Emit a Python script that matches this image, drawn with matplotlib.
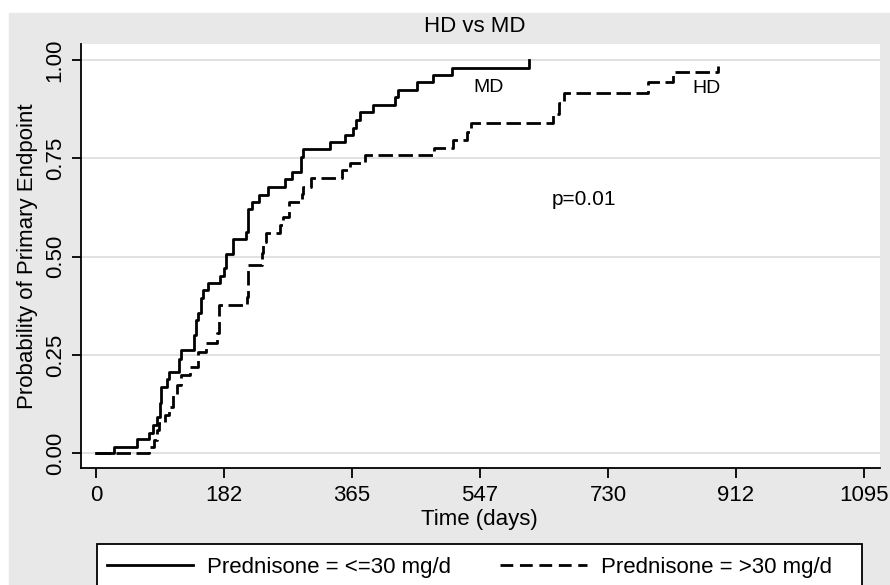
import matplotlib
matplotlib.use('Agg')
import matplotlib.pyplot as plt
from matplotlib.patches import Rectangle
from matplotlib.lines import Line2D

plt.rcParams['font.family'] = ['Liberation Sans', 'DejaVu Sans']

# Kaplan-Meier style cumulative curves (days, probability)
md_days = [0, 26.1, 58.9, 75.6, 81.7, 87.4, 91.2, 93.1, 101.7, 103.6,
           118.8, 120.7, 139.7, 142.6, 145.9, 149.7, 153.0, 160.2, 176.8, 182.5,
           184.9, 194.8, 213.4, 216.2, 222.9, 232.4, 244.7, 269.5, 279.9, 292.3,
           295.6, 333.6, 355.0, 366.9, 370.7, 376.4, 395.4, 426.3, 431.0, 457.2,
           480.9, 507.1, 617.8]
md_prob = [0, .017, .036, .052, .072, .093, .127, .169, .188, .206,
           .241, .263, .301, .339, .356, .394, .415, .432, .451, .470,
           .508, .544, .563, .620, .638, .658, .678, .697, .715, .754,
           .773, .792, .809, .828, .847, .869, .886, .905, .924, .943,
           .962, .980, 1.0]

hd_days = [0, 75.6, 82.7, 87.4, 89.8, 98.4, 104.5, 110.2, 115.9, 121.2,
           134.0, 145.9, 156.8, 172.0, 175.8, 214.8, 217.2, 236.2, 238.5, 242.4,
           262.3, 266.1, 275.6, 293.3, 295.6, 306.5, 350.3, 362.1, 383.5, 481.9,
           509.4, 528.5, 534.2, 652.0, 660.0, 667.7, 787.5, 823.0, 887.0]
hd_prob = [0, .016, .034, .059, .076, .097, .118, .148, .174, .199,
           .220, .258, .280, .305, .377, .398, .479, .509, .538, .559,
           .580, .602, .638, .659, .678, .699, .720, .739, .758, .776,
           .797, .818, .839, .864, .890, .917, .945, .970, .985]

x_ticks = [0, 182, 365, 547, 730, 912, 1095]
y_ticks = [0, 0.25, 0.5, 0.75, 1.0]
y_ticklabels = ['0.00', '0.25', '0.50', '0.75', '1.00']

W, H = 890, 585
fig = plt.figure(figsize=(W / 100, H / 100), dpi=100, facecolor='white')
# Stata-like light gray graph region
fig.patches.append(Rectangle((9 / W, 0), 1 - 9 / W, 1 - 13 / H,
                             transform=fig.transFigure, color='#e8e8e8', zorder=-10))

ax = fig.add_axes([81 / W, 1 - 468.3 / H, 799 / W, 424 / H])
ax.set_facecolor('white')

ax.step(md_days, md_prob, where='post', color='black', lw=2.0, zorder=3)
ax.step(hd_days, hd_prob, where='post', color='black', lw=2.0,
        linestyle=(0, (5.2, 2.0)), zorder=3)

ax.set_xlim(-21.4, 1117.8)
ax.set_ylim(-0.038, 1.04)
ax.set_xticks(x_ticks)
ax.set_xticklabels([str(t) for t in x_ticks], fontsize=16)
ax.set_yticks(y_ticks)
ax.set_yticklabels(y_ticklabels, fontsize=16, rotation=90, va='center')
ax.tick_params(axis='x', direction='out', length=7, width=1.3, pad=5)
ax.tick_params(axis='y', direction='out', length=6.5, width=1.3, pad=4.5)
for y in y_ticks:
    ax.axhline(y, color='#dedede', lw=1.3, zorder=1)

for side in ['top', 'right']:
    ax.spines[side].set_visible(False)
for side in ['left', 'bottom']:
    ax.spines[side].set_linewidth(1.3)

ax.text(559, 0.929, 'MD', fontsize=14, ha='center', va='center')
ax.text(870.7, 0.928, 'HD', fontsize=14, ha='center', va='center')
ax.text(695.7, 0.646, 'p=0.01', fontsize=15, ha='center', va='center')

fig.text(475 / W, 1 - 27 / H, 'HD vs MD', fontsize=16, ha='center', va='center')
fig.text(479 / W, 1 - 520 / H, 'Time (days)', fontsize=16, ha='center', va='center')
fig.text(28 / W, 1 - 256 / H, 'Probability of Primary Endpoint', fontsize=16,
         rotation=90, ha='center', va='center')

# legend box (Stata style, runs off the bottom edge)
fig.patches.append(Rectangle((96.7 / W, -0.02), 765.6 / W, 1 - 544 / H + 0.02,
                             transform=fig.transFigure, facecolor='white',
                             edgecolor='black', lw=1.3, zorder=-5))
handles = [Line2D([], [], color='black', lw=2.0),
           Line2D([], [], color='black', lw=2.0, linestyle=(0, (4.6, 2.4)))]
labels = ['Prednisone = <=30 mg/d', 'Prednisone = >30 mg/d']
fig.legend(handles, labels, loc='upper left', ncol=2, frameon=False,
           bbox_to_anchor=(96.7 / W, 1 - 547 / H),
           fontsize=16, handlelength=3.9, handletextpad=0.63,
           columnspacing=2.2, borderaxespad=0, borderpad=0.45)

fig.savefig('out.png', dpi=100)
